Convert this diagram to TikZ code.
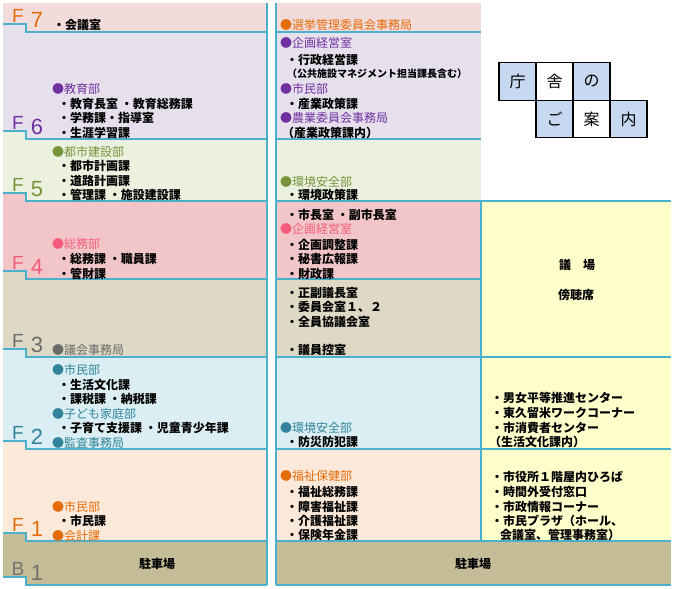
\documentclass[tikz,border=0pt]{standalone}
\usepackage{fontspec}
\usetikzlibrary{positioning}
\newfontfamily\jpfont{Noto Sans CJK JP}
\newfontfamily\flrfont{Liberation Sans}
\definecolor{wallc}{HTML}{4BB0CC}
\definecolor{bgF7}{HTML}{F2DCDB}
\definecolor{bgF6}{HTML}{E5E0EC}
\definecolor{bgF5}{HTML}{EBF1DE}
\definecolor{bgF4}{HTML}{F2C6C8}
\definecolor{bgF3}{HTML}{DDD9C4}
\definecolor{bgF2}{HTML}{DAEEF3}
\definecolor{bgF1}{HTML}{FDE9D9}
\definecolor{bgB1}{HTML}{C4BD97}
\definecolor{hall}{HTML}{FFFFCC}
\definecolor{tileb}{HTML}{C6D9F1}
\definecolor{cF7}{HTML}{E46C0A}
\definecolor{cF6}{HTML}{7030A0}
\definecolor{cF5}{HTML}{77933C}
\definecolor{cF4}{HTML}{F45C7C}
\definecolor{cF3}{HTML}{6B6B6B}
\definecolor{cF2}{HTML}{31849B}
\definecolor{cF1}{HTML}{E46C0A}
\definecolor{cB1}{HTML}{767171}
% left band with the step at the floor label
\newcommand{\lband}[3]{\fill[#3] (3,#1-8) -- (26,#1-8) -- (26,#1) -- (267,#1) -- (267,#2) -- (26,#2) -- (26,#2-8) -- (3,#2-8) -- cycle;}
\newcommand{\lstep}[1]{\draw[wall] (3,#1-8) -- (26,#1-8) -- (26,#1) -- (267,#1);}
\tikzset{
  wall/.style={draw=wallc,line width=1.5pt},
  item/.style={anchor=west,inner sep=0pt,font=\jpfont\bfseries\fontsize{12}{14}\selectfont},
  note/.style={item,font=\jpfont\bfseries\fontsize{10}{12}\selectfont},
  dept/.style={item,font=\jpfont\fontsize{12}{14}\selectfont,text=#1},
  park/.style={inner sep=0pt,font=\jpfont\bfseries\fontsize{12}{14}\selectfont},
  flF/.style={inner sep=0pt,font=\flrfont\fontsize{19}{19}\selectfont,text=#1},
  flN/.style={inner sep=0pt,font=\flrfont\fontsize{22}{22}\selectfont,text=#1},
  tile/.style={draw=black,line width=1.3pt,fill=white,minimum width=37pt,minimum height=37.5pt,inner sep=0pt,outer sep=0pt,font=\jpfont\fontsize{16}{16}\selectfont},
  btile/.style={tile,fill=tileb},
}
\begin{document}
\begin{tikzpicture}[x=1pt,y=-1pt]
\useasboundingbox (0,0) rectangle (675,589);
% left column
\fill[bgF7] (3,3) -- (267,3) -- (267,32) -- (26,32) -- (26,24) -- (3,24) -- cycle;
\lband{32}{139}{bgF6}
\lband{139}{201}{bgF5}
\lband{201}{279}{bgF4}
\lband{279}{357}{bgF3}
\lband{357}{449}{bgF2}
\lband{449}{541}{bgF1}
\lband{541}{585}{bgB1}
% middle column
\fill[bgF7] (276,3) rectangle (481,32);
\fill[bgF6] (276,32) rectangle (481,139);
\fill[bgF5] (276,139) rectangle (481,201);
\fill[bgF4] (276,201) rectangle (481,279);
\fill[bgF3] (276,279) rectangle (481,357);
\fill[bgF2] (276,357) rectangle (481,449);
\fill[bgF1] (276,449) rectangle (481,541);
% hall side
\fill[hall] (481,201) rectangle (671,541);
\fill[bgB1] (276,541) rectangle (671,585);
% walls
\lstep{32} \lstep{139} \lstep{201} \lstep{279} \lstep{357} \lstep{449} \lstep{541} \lstep{585}
\draw[wall] (267,3) -- (267,585);
\draw[wall] (276,3) -- (276,585);
\draw[wall] (481,201) -- (481,541);
\draw[wall] (276,32) -- (481,32);
\draw[wall] (276,139) -- (481,139);
\draw[wall] (276,279) -- (481,279);
\draw[wall] (276,201) -- (671,201);
\draw[wall] (276,357) -- (671,357);
\draw[wall] (276,449) -- (671,449);
\draw[wall] (276,541) -- (671,541);
\draw[wall] (276,585) -- (671,585);
% floor labels
\node[flF=cF7] (fF7) at (18,16) {F};  \node[flN=cF7] (nF7) at (37,20) {7};
\node[flF=cF6] (fF6) at (18,123) {F}; \node[flN=cF6] (nF6) at (37,127) {6};
\node[flF=cF5] (fF5) at (18,185) {F}; \node[flN=cF5] (nF5) at (37,189) {5};
\node[flF=cF4] (fF4) at (18,263) {F}; \node[flN=cF4] (nF4) at (37,267) {4};
\node[flF=cF3] (fF3) at (18,341) {F}; \node[flN=cF3] (nF3) at (37,345) {3};
\node[flF=cF2] (fF2) at (18,433) {F}; \node[flN=cF2] (nF2) at (37,437) {2};
\node[flF=cF1] (fF1) at (18,525) {F}; \node[flN=cF1] (nF1) at (37,529) {1};
\node[flF=cB1] (fB1) at (18,569) {B}; \node[flN=cB1] (nB1) at (37,573) {1};
% left column texts
\node[item] (l7a) at (53,25) {・会議室};
\node[dept=cF6] (l6h) at (52,89) {●教育部};
\node[item] (l6a) at (58,104) {・教育長室 ・教育総務課};
\node[item] (l6b) at (58,118) {・学務課・指導室};
\node[item] (l6c) at (58,133) {・生涯学習課};
\node[dept=cF5] (l5h) at (52,152) {●都市建設部};
\node[item] (l5a) at (58,166) {・都市計画課};
\node[item] (l5b) at (58,181) {・道路計画課};
\node[item] (l5c) at (58,195) {・管理課 ・施設建設課};
\node[dept=cF4] (l4h) at (52,244) {●総務部};
\node[item] (l4a) at (58,259) {・総務課 ・職員課};
\node[item] (l4b) at (58,274) {・管財課};
\node[dept=cF3] (l3h) at (52,350) {●議会事務局};
\node[dept=cF2] (l2h) at (52,370) {●市民部};
\node[item] (l2a) at (58,385) {・生活文化課};
\node[item] (l2b) at (58,399) {・課税課 ・納税課};
\node[dept=cF2] (l2i) at (52,414) {●子ども家庭部};
\node[item] (l2c) at (58,428) {・子育て支援課 ・児童青少年課};
\node[dept=cF2] (l2j) at (52,443) {●監査事務局};
\node[dept=cF1] (l1h) at (52,507) {●市民部};
\node[item] (l1a) at (58,521) {・市民課};
\node[dept=cF1] (l1i) at (52,536) {●会計課};
\node[park] (lb) at (157,564) {駐車場};
% middle column texts
\node[dept=cF7] (m7h) at (280,25) {●選挙管理委員会事務局};
\node[dept=cF6] (m6h) at (280,43) {●企画経営室};
\node[item] (m6a) at (286,60) {・行政経営課};
\node[note] (m6n) at (287,74) {（公共施設マネジメント担当課長含む）};
\node[dept=cF6] (m6i) at (280,89) {●市民部};
\node[item] (m6b) at (286,104) {・産業政策課};
\node[dept=cF6] (m6j) at (280,118) {●農業委員会事務局};
\node[item] (m6c) at (282,133) {（産業政策課内）};
\node[dept=cF5] (m5h) at (280,182) {●環境安全部};
\node[item] (m5a) at (286,195) {・環境政策課};
\node[item] (m4a) at (286,215) {・市長室 ・副市長室};
\node[dept=cF4] (m4h) at (280,229) {●企画経営室};
\node[item] (m4b) at (286,245) {・企画調整課};
\node[item] (m4c) at (286,259) {・秘書広報課};
\node[item] (m4d) at (286,274) {・財政課};
\node[item] (m3a) at (286,293) {・正副議長室};
\node[item] (m3b) at (286,307) {・委員会室１、２};
\node[item] (m3c) at (286,322) {・全員協議会室};
\node[item] (m3d) at (286,350) {・議員控室};
\node[dept=cF2] (m2h) at (280,428) {●環境安全部};
\node[item] (m2a) at (286,442) {・防災防犯課};
\node[dept=cF1] (m1h) at (280,476) {●福祉保健部};
\node[item] (m1a) at (286,492) {・福祉総務課};
\node[item] (m1b) at (286,507) {・障害福祉課};
\node[item] (m1c) at (286,521) {・介護福祉課};
\node[item] (m1d) at (286,535) {・保険年金課};
\node[park] (mb) at (473,564) {駐車場};
% hall side texts
\node[park] (r4a) at (577,265) {議　場};
\node[park] (r4b) at (576,295) {傍聴席};
\node[item] (r2a) at (491,398) {・男女平等推進センター};
\node[item] (r2b) at (491,413) {・東久留米ワークコーナー};
\node[item] (r2c) at (491,428) {・市消費者センター};
\node[item] (r2d) at (489,442) {（生活文化課内）};
\node[item] (r1a) at (491,477) {・市役所１階屋内ひろば};
\node[item] (r1b) at (491,492) {・時間外受付窓口};
\node[item] (r1c) at (491,507) {・市政情報コーナー};
\node[item] (r1d) at (491,521) {・市民プラザ（ホール、};
\node[item] (r1e) at (500,535) {会議室、管理事務室）};
% title tiles
\node[btile] (t1) at (517.5,81.5) {庁};
\node[tile,right=0pt of t1] (t2) {舎};
\node[btile,right=0pt of t2] (t3) {の};
\node[btile,below=0pt of t2] (t4) {ご};
\node[tile,right=0pt of t4] (t5) {案};
\node[btile,right=0pt of t5] (t6) {内};
\end{tikzpicture}
\end{document}
